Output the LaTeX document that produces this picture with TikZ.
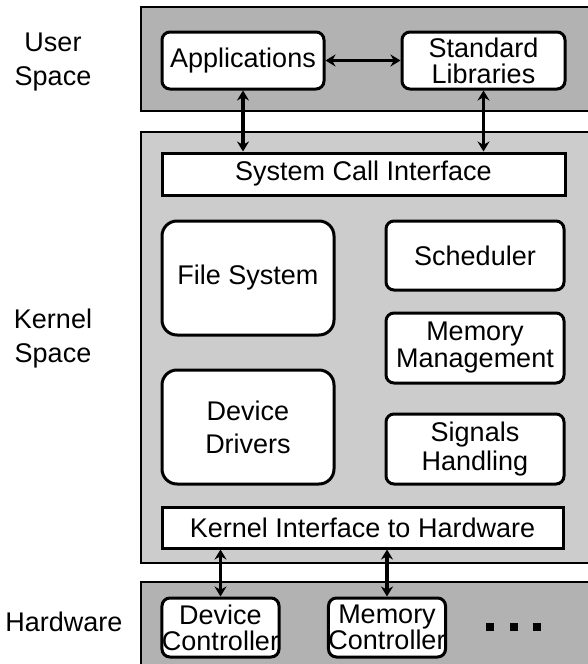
\documentclass[tikz,border=0pt]{standalone}
\usepackage{fontspec}
\setmainfont{Liberation Sans}
\usetikzlibrary{arrows.meta}
\definecolor{darkpanel}{gray}{0.70}
\definecolor{lightpanel}{gray}{0.80}
\def\drawpanel{\draw[line width=2.8pt]}
\def\roundbox{\node[draw,line width=3pt,fill=white,rounded corners=8pt,align=center,inner sep=0pt]}
\def\flatbox{\node[draw,line width=3pt,fill=white,align=center,inner sep=0pt]}
\def\drawlink{\draw[line width=3.5pt,{Stealth[length=10pt,width=12pt]}-{Stealth[length=10pt,width=12pt]}]}

\begin{document}
\begin{tikzpicture}[x=1pt,y=-1pt,font=\fontsize{27}{26}\selectfont]
\clip (0,0) rectangle (588,664);
% the three layers
\drawpanel[fill=darkpanel] (141,7) rectangle (600,111);
\drawpanel[fill=lightpanel] (141,132) rectangle (600,563);
\drawpanel[fill=darkpanel] (141,582) rectangle (600,680);
\node[align=center] (user) at (53,62) {User\\[8pt]Space};
\node[align=center] (kernel) at (53,339) {Kernel\\[8pt]Space};
\node (hw) at (64,622) {Hardware};
% user space
\roundbox[minimum width=162pt,minimum height=57pt] (apps) at (243,60.5) {Applications};
\roundbox[minimum width=163pt,minimum height=57pt] (stdlib) at (483.5,60.5) {Standard\\Libraries};
% kernel space
\flatbox[minimum width=403pt,minimum height=42pt] (sci) at (363.5,174) {System Call Interface};
\roundbox[rounded corners=15pt,minimum width=172pt,minimum height=114pt] (fs) at (248,278) {File System};
\roundbox[rounded corners=15pt,minimum width=172pt,minimum height=114pt] (drv) at (248,427) {Device\\[7pt]Drivers};
\roundbox[minimum width=178pt,minimum height=69pt] (sched) at (475,255.5) {Scheduler};
\roundbox[minimum width=178pt,minimum height=70pt] (mem) at (475,348) {Memory\\[1pt]Management};
\roundbox[minimum width=178pt,minimum height=70pt] (sig) at (475,449) {Signals\\[3pt]Handling};
\flatbox[minimum width=401pt,minimum height=41pt] (kih) at (362.5,527.5) {Kernel Interface to Hardware};
% hardware
\roundbox[minimum width=117pt,minimum height=59pt] (devctl) at (220.5,627.5) {Device\\Controller};
\roundbox[minimum width=116pt,minimum height=59pt] (memctl) at (387,627.5) {Memory\\Controller};
\node[inner sep=0pt] (dots) at (513.5,627) {\rule{8pt}{8pt}\hspace{15.5pt}\rule{8pt}{8pt}\hspace{15.5pt}\rule{8pt}{8pt}};
% links
\drawlink (apps) -- (stdlib);
\drawlink (apps.south) -- (apps.south |- sci.north);
\drawlink (stdlib.south) -- (stdlib.south |- sci.north);
\drawlink (kih.south -| devctl.north) -- (devctl.north);
\drawlink (kih.south -| memctl.north) -- (memctl.north);
\end{tikzpicture}
\end{document}
